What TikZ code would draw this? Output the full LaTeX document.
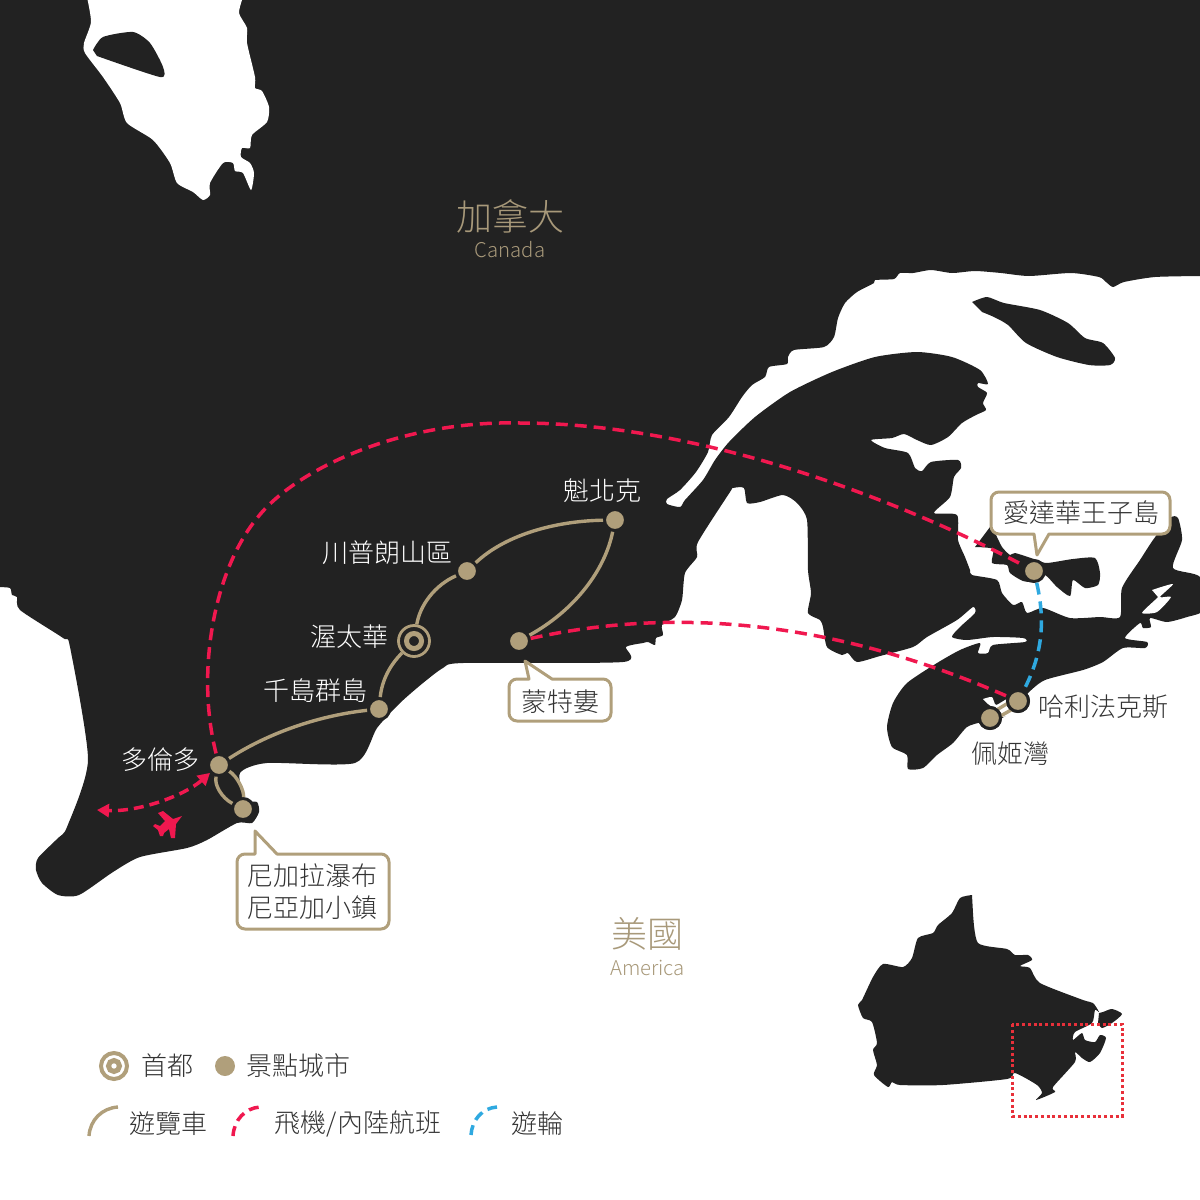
\documentclass[tikz,border=0pt]{standalone}
\usepackage{fontspec}
\usetikzlibrary{arrows.meta}
\setmainfont{Noto Sans CJK TC}[UprightFont={* Light}]
\definecolor{land}{HTML}{222222}
\definecolor{tan}{HTML}{B09F7B}
\definecolor{flight}{HTML}{F0184F}
\definecolor{ferry}{HTML}{2FA9E0}
\definecolor{ink}{HTML}{333333}
\definecolor{headc}{HTML}{A8997A}
\definecolor{boxred}{HTML}{E8303A}
\tikzset{
  shape smooth/.style={smooth,tension=.4},
  city/.style={circle,fill=tan,draw=land,line width=3pt,minimum size=21pt,inner sep=0pt},
  citycap/.style={circle,fill=land,draw=tan,line width=2.8pt,minimum size=31pt,inner sep=0pt},
  capin/.style={circle,fill=land,draw=tan,line width=5pt,minimum size=15pt,inner sep=0pt},
  bus/.style={draw=tan,line width=3.4pt},
  plane/.style={draw=flight,line width=3.5pt,dash pattern=on 12pt off 7pt},
  boat/.style={draw=ferry,line width=3.5pt,dash pattern=on 12pt off 7pt},
  lbl/.style={font=\fontsize{26}{28}\selectfont,inner sep=0pt},
  onland/.style={lbl,text=white},
  onwhite/.style={lbl,text=ink},
  head/.style={font=\fontsize{36}{38}\selectfont,text=headc,inner sep=0pt},
  subhead/.style={font=\fontsize{20.3}{22}\selectfont,text=headc,inner sep=0pt},
  callout/.style={draw=tan,fill=white,line width=3pt,line join=round},
}
\begin{document}
\begin{tikzpicture}[x=1pt,y=-1pt]
\useasboundingbox (0,0) rectangle (1200,1200);
\begin{scope}
\clip (0,0) rectangle (1200,1200);
% main land
\fill[land] (0,0) -- (1200,0) -- (1200,276) -- plot[shape smooth] coordinates {
(1200,276)(1155,277)(1124,282)(1113,287)(1106,282)(1099,277)(1071,273)(1029,276)(1001,273)(975,271)(952,273)(931,270)(913,273)(900,273)(894,279)(875,280)(874,283)(857,292)(845,303)(838,318)(834,337)(824,347)(794,350)(788,357)(787,364)(769,367)(765,377)(752,385)(742,397)(729,417)(712,435)(708,452)(696,472)(680,490)(667,499)(667,504)(680,507)(685,500)(703,480)(715,460)(729,442)(755,417)(790,392)(832,372)(875,357)(917,352)(952,357)(980,370)(988,384)(978,383)(978,387)(987,393)(983,403)(986,410)(976,415)(962,423)(948,437)(931,445)(917,440)(904,434)(892,438)(871,440)(885,448)(908,453)(915,468)(922,471)(931,462)(958,460)(961,468)(954,477)(950,497)(934,513)(957,515)(958,540)(965,557)(970,570)(972,575)(997,580)(1002,593)(1013,605)(1022,602)(1027,613)(1043,608)(1070,618)(1100,617)(1120,617)(1122,588)(1140,560)(1153,540)(1170,518)(1178,518)(1182,540)(1173,568)(1200,577)(1203,610)(1187,617)(1167,622)(1150,618)(1151,627)(1143,628)(1140,623)(1125,638)(1147,642)(1145,648)(1123,648)(1103,662)(1083,670)(1045,680)(1028,693)(1013,710)(1002,718)(982,722)(967,727)(953,743)(937,755)(923,768)(908,769)(907,755)(892,747)(887,727)(893,703)(907,683)(937,663)(960,650)(980,643)(978,653)(988,653)(993,645)(1025,642)(1023,638)(993,637)(967,640)(952,637)(960,627)(975,613)(973,607)(957,620)(927,637)(913,647)(880,656)(857,662)(848,653)(842,655)(827,647)(823,627)(820,620)(808,613)(811,593)(808,570)(807,520)(797,503)(783,495)(760,502)(747,503)(744,488)(733,488)(730,492)(698,542)(697,557)(685,573)(682,600)(675,617)(662,625)(663,635)(656,638)(655,645)(648,642)(643,643)(626,647)(623,662)(463,663)(443,668)(423,683)(400,703)(377,728)(355,763)(267,763)(240,773)(245,800)(257,802)(259,812)(252,823)(237,823)(207,840)(187,848)(140,857)(113,872)(79,895)(58,895)(42,883)(36,870)(38,858)(58,838)(67,827)(88,760)(70,647)(63,638)(20,610)(17,597)(12,595)(10,588)(-2,587)} -- cycle;
% Hudson Bay
\fill[white] plot[shape smooth] coordinates {(87,-3)(91,22)(84,43)(85,53)(103,77)(120,103)(127,123)(153,140)(170,163)(177,183)(193,192)(203,200)(210,195)(210,183)(223,163)(233,163)(235,171)(243,173)(251,190)(254,173)(250,163)(241,157)(242,148)(250,148)(252,135)(267,122)(269,107)(262,91)(255,88)(255,77)(247,43)(247,28)(239,13)(243,-3)} -- cycle;
\fill[land] plot[shape smooth] coordinates {(93,50)(103,37)(133,32)(150,43)(163,67)(160,77)(97,56)} -- cycle;
% Anticosti
\fill[land] plot[shape smooth] coordinates {(972,302)(987,297)(1004,303)(1040,310)(1068,323)(1085,338)(1103,343)(1115,358)(1110,365)(1089,365)(1057,357)(1026,343)(1008,325)(994,317)(982,312)} -- cycle;
% PEI
\fill[land] plot[shape smooth] coordinates {(975,547)(993,549)(992,563)(1007,565)(1010,573)(1023,581)(1037,582)(1045,575)(1057,587)(1070,596)(1073,580)(1085,588)(1098,585)(1100,573)(1095,558)(1073,559)(1047,563)(1037,560)(1015,553)(1010,555)(1002,547)(995,533)(990,527)} -- cycle;
% Cape Breton slits and coast notch
\fill[white] plot[shape smooth] coordinates {(1152,590)(1173,584)(1160,597)(1171,597)(1157,612)(1142,613)(1155,600)(1158,597)} -- cycle;
\fill[white] plot[shape smooth] coordinates {(983,699)(992,697)(996,705)(1008,699)(1012,712)(1003,717)(996,710)(988,704)} -- cycle;
% inset
\fill[land] plot[shape smooth] coordinates {(972,895)(960,898)(952,913)(938,925)(933,933)(918,938)(912,958)(903,967)(883,964)(873,977)(862,1000)(858,1005)(863,1018)(872,1022)(877,1043)(873,1050)(877,1065)(874,1075)(888,1087)(892,1082)(900,1085)(943,1085)(1007,1079)(1015,1073)(1037,1085)(1042,1093)(1036,1100)(1055,1092)(1053,1087)(1075,1062)(1075,1052)(1082,1058)(1090,1062)(1100,1053)(1106,1038)(1100,1035)(1095,1042)(1085,1040)(1082,1033)(1073,1040)(1075,1032)(1092,1023)(1095,1010)(1099,1012)(1093,1003)(1083,1000)(1040,983)(1030,968)(1020,966)(1032,960)(1028,955)(1015,955)(1007,949)(978,943)(973,913)} -- cycle;
\fill[land] plot[shape smooth] coordinates {(1099,1013)(1103,1012)(1112,1009)(1122,1014)(1112,1023)(1102,1028)(1098,1023)} -- cycle;
\end{scope}
\draw[boxred,line width=3pt,dash pattern=on 3pt off 2.75pt] (1012,1024) rectangle (1122,1116);
% plane icon
\fill[flight] (182,816) -- (176,824) -- (175,838) -- (171,838) -- (169,829) -- (164,833) -- (163,836) -- (160,836) -- (158,830) -- (153,826) -- (155,824) -- (160,826) -- (165,821) -- (158,813) -- (163,811) -- (173,819) -- cycle;
% cities
\node[city] (tor) at (219,765) {};
\node[city] (nia) at (243,809) {};
\node[city] (tho) at (379,709) {};
\node[citycap] (ott) at (414,641) {};
\node[capin] (ottin) at (414,641) {};
\node[city] (tre) at (467,571) {};
\node[city] (que) at (615,520) {};
\node[city] (mon) at (519,641) {};
\node[city] (pei) at (1034,571) {};
\node[city] (hal) at (1018,701) {};
\node[city] (peg) at (990,718) {};
% coach routes
\draw[bus] (tor) .. controls (265,735) and (315,716) .. (tho);
\draw[bus] (tho) .. controls (382,680) and (390,665) .. (ott);
\draw[bus] (ott) .. controls (420,605) and (435,585) .. (tre);
\draw[bus] (tre) .. controls (505,535) and (555,521) .. (que);
\draw[bus] (que) .. controls (605,570) and (575,610) .. (mon);
\draw[bus] (tor) .. controls (214,785) and (222,798) .. (nia);
\draw[bus] (tor) .. controls (237,776) and (244,790) .. (nia);
\draw[bus] ([yshift=-4pt]peg.center) -- ([yshift=-5pt]hal.center);
\draw[bus] ([yshift=4pt]peg.center) -- ([yshift=4pt]hal.center);
\node[city] at (hal) {};
\node[city] at (peg) {};
% flights
\coordinate (r1) at (258,517);
\coordinate (r2) at (520,423);
\coordinate (westend) at (97,810);
\draw[plane] (tor) .. controls (195,670) and (215,568) .. (r1) .. controls (295,470) and (400,420) .. (r2) .. controls (700,423) and (900,500) .. (pei);
\draw[plane] (mon) .. controls (650,612) and (810,610) .. (hal);
\draw[flight,line width=3.5pt,dash pattern=on 10pt off 6pt,{Triangle[length=12pt,width=13pt]}-{Triangle[length=12pt,width=13pt]}] (tor) .. controls (185,795) and (140,812) .. (westend);
% ferry
\draw[boat] (pei) .. controls (1044,615) and (1045,650) .. (hal);
% callouts
\draw[callout,rounded corners=8pt] (255,854) -- (237,854) -- (237,929) -- (389,929) -- (389,854) [sharp corners] -- (277,854) -- (255,831) -- cycle;
\draw[callout,rounded corners=8pt] (529,679) -- (509,679) -- (509,721) -- (611,721) -- (611,679) [sharp corners] -- (552,679) -- (525,661) -- cycle;
\draw[callout,rounded corners=8pt] (1034,534) -- (991,534) -- (991,492) -- (1170,492) -- (1170,534) [sharp corners] -- (1049,534) -- (1037,555) -- cycle;
% labels
\node[head] (tca) at (510,216) {加拿大};
\node[subhead] (tcae) at (510,250) {Canada};
\node[head] (tus) at (647,934) {美國};
\node[subhead] (tuse) at (647.5,968) {America};
\node[onland] (tque) at (602,491) {魁北克};
\node[onland] (ttre) at (387,553) {川普朗山區};
\node[onland] (tott) at (349,636.5) {渥太華};
\node[onland] (ttho) at (315,690.5) {千島群島};
\node[onland] (ttor) at (160,759.5) {多倫多};
\node[onwhite] (that) at (1103,706.5) {哈利法克斯};
\node[onwhite] (tpeg) at (1010,754) {佩姬灣};
\node[onwhite] (tmon) at (560.5,701.5) {蒙特婁};
\node[onwhite] (tpei) at (1081,512.5) {愛達華王子島};
\node[onwhite] (tn1) at (312.5,875.5) {尼加拉瀑布};
\node[onwhite] (tn2) at (312.5,907.5) {尼亞加小鎮};
% legend
\node[circle,fill=white,draw=tan,line width=4pt,minimum size=26pt,inner sep=0pt] (lcap) at (114,1066) {};
\node[circle,fill=white,draw=tan,line width=5pt,minimum size=11pt,inner sep=0pt] (lcapin) at (114,1066) {};
\node[circle,fill=tan,minimum size=20pt,inner sep=0pt] (ldot) at (225,1066) {};
\node[onwhite] (l1) at (167,1066) {首都};
\node[onwhite] (l2) at (298.5,1066) {景點城市};
\coordinate (a1) at (89,1136); \coordinate (a2) at (118,1107);
\coordinate (b1) at (233,1136); \coordinate (b2) at (260,1107);
\coordinate (c1) at (471,1135); \coordinate (c2) at (497,1107);
\draw[bus] (a1) .. controls (90,1120) and (102,1108) .. (a2);
\draw[plane,dash pattern=on 10pt off 6pt] (b1) .. controls (234,1120) and (245,1108) .. (b2);
\draw[boat,dash pattern=on 10pt off 6pt] (c1) .. controls (472,1120) and (482,1108) .. (c2);
\node[onwhite] (l3) at (168.5,1124) {遊覽車};
\node[onwhite] (l4) at (358,1124) {飛機/內陸航班};
\node[onwhite] (l5) at (537.5,1124) {遊輪};
\end{tikzpicture}
\end{document}
